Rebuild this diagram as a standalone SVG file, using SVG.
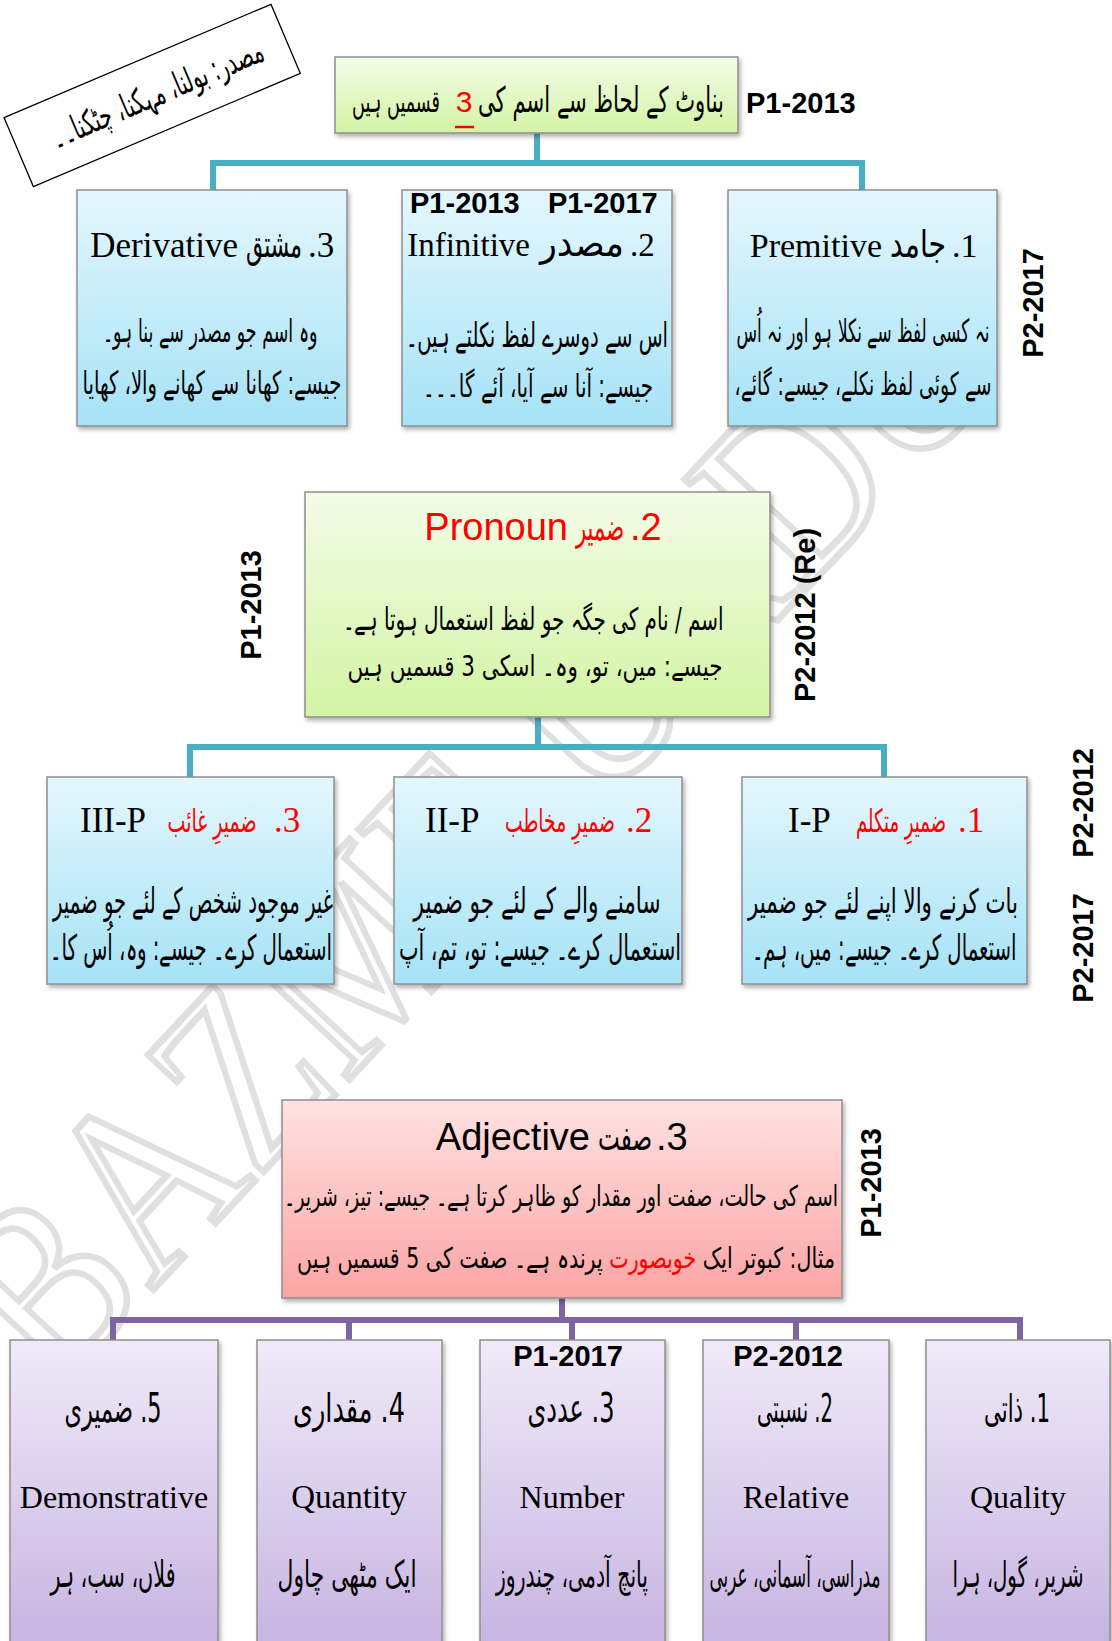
<svg xmlns="http://www.w3.org/2000/svg" width="1112" height="1641" viewBox="0 0 1112 1641">
<defs>
<linearGradient id="gGreen" x1="0" y1="0" x2="0" y2="1"><stop offset="0" stop-color="#F3FCE8"/><stop offset="1" stop-color="#D3F4A4"/></linearGradient>
<linearGradient id="gBlue" x1="0" y1="0" x2="0" y2="1"><stop offset="0" stop-color="#E4F7FD"/><stop offset="1" stop-color="#A6E2F6"/></linearGradient>
<linearGradient id="gPink" x1="0" y1="0" x2="0" y2="1"><stop offset="0" stop-color="#FFE2E2"/><stop offset="1" stop-color="#FBA4A4"/></linearGradient>
<linearGradient id="gPurple" x1="0" y1="0" x2="0" y2="1"><stop offset="0" stop-color="#F0EAF8"/><stop offset="1" stop-color="#C6B3E1"/></linearGradient>
<filter id="sh" x="-5%" y="-5%" width="112%" height="115%"><feDropShadow dx="2" dy="3" stdDeviation="2" flood-color="#000" flood-opacity="0.3"/></filter>
</defs>
<style>
.box{stroke:#8E8E8E;stroke-width:1.5;filter:url(#sh)}
.ur{font-family:"DejaVu Sans",sans-serif;fill:#000;direction:rtl;text-anchor:middle}
.tm{font-family:"Liberation Serif",serif;fill:#000}
.sa{font-family:"Liberation Sans",sans-serif;fill:#000}
.pl{font-family:"Liberation Sans",sans-serif;font-weight:bold;font-size:29px;fill:#000}
.red{fill:#FF0000}
.ct{fill:none;stroke:#4BACC6;stroke-width:6}
.cp{fill:none;stroke:#8064A2;stroke-width:6}
.wm{font-family:"Liberation Serif",serif;fill:none;stroke:#E0E0E0;stroke-width:7}
</style>
<rect width="1112" height="1641" fill="#FFFFFF"/>

<text class="wm" transform="translate(55,1395) rotate(-47)" font-size="250" textLength="1400" lengthAdjust="spacingAndGlyphs">BAZME URDU</text>

<g id="connectors">
<path class="ct" d="M537,133 V163 M213,190 V163 H862 V190"/>
<path class="ct" d="M538,717 V747 M190,777 V747 H884 V777"/>
<path class="cp" d="M562,1298 V1320 M113,1340 V1320 H1020 V1340 M349,1320 V1340 M572,1320 V1340 M796,1320 V1340"/>
</g>

<g id="note" transform="translate(152,95) rotate(-23)">
<rect x="-145" y="-37" width="290" height="75" fill="#FFFFFF" stroke="#000" stroke-width="1.3"/>
<text class="ur" transform="translate(5,12) scale(1,1.7)" font-size="20" textLength="228" lengthAdjust="spacingAndGlyphs">مصدر: بولنا، مہکنا، چٹکنا۔۔</text>
</g>

<g id="title">
<rect class="box" x="335" y="57" width="403" height="76" fill="url(#gGreen)"/>
<text class="ur" transform="translate(601,112) scale(1,1.6)" font-size="22" textLength="246" lengthAdjust="spacingAndGlyphs">بناوٹ کے لحاظ سے اسم کی</text>
<text class="sa red" x="464" y="112" font-size="30" text-anchor="middle">3</text>
<line x1="455" y1="127" x2="474" y2="127" stroke="#FF0000" stroke-width="2.5"/>
<text class="ur" transform="translate(396,112) scale(1,1.8)" font-size="17" textLength="88" lengthAdjust="spacingAndGlyphs">قسمیں ہیں</text>
<text class="pl" x="746" y="113">P1-2013</text>
</g>

<g id="derivative">
<rect class="box" x="77" y="190" width="270" height="236" fill="url(#gBlue)"/>
<text class="tm" x="238" y="257" font-size="35" text-anchor="end">Derivative</text>
<text class="ur" transform="translate(274,257) scale(1,1.5)" font-size="25" textLength="56" lengthAdjust="spacingAndGlyphs">مشتق</text>
<text class="tm" x="308" y="257" font-size="35">.3</text>
<text class="ur" transform="translate(210,342) scale(1,1.6)" font-size="20" textLength="215" lengthAdjust="spacingAndGlyphs">وہ اسم جو مصدر سے بنا ہو۔</text>
<text class="ur" transform="translate(212,394) scale(1,1.6)" font-size="20" textLength="259" lengthAdjust="spacingAndGlyphs">جیسے: کھانا سے کھانے والا، کھایا</text>
</g>

<g id="infinitive">
<rect class="box" x="402" y="190" width="270" height="236" fill="url(#gBlue)"/>
<text class="pl" x="410" y="213">P1-2013</text>
<text class="pl" x="548" y="213">P1-2017</text>
<text class="tm" x="530" y="256" font-size="33" text-anchor="end">Infinitive</text>
<text class="ur" transform="translate(582,256) scale(1,1.5)" font-size="25" textLength="84" lengthAdjust="spacingAndGlyphs">مصدر</text>
<text class="tm" x="630" y="256" font-size="33">.2</text>
<text class="ur" transform="translate(537,347) scale(1,1.6)" font-size="21" textLength="262" lengthAdjust="spacingAndGlyphs">اس سے دوسرے لفظ نکلتے ہیں۔</text>
<text class="ur" transform="translate(538,397) scale(1,1.6)" font-size="20" textLength="230" lengthAdjust="spacingAndGlyphs">جیسے: آنا سے آیا، آئے گا۔۔۔</text>
</g>

<g id="primitive">
<rect class="box" x="728" y="190" width="269" height="236" fill="url(#gBlue)"/>
<text class="tm" x="882" y="257" font-size="34" text-anchor="end">Premitive</text>
<text class="ur" transform="translate(918,257) scale(1,1.5)" font-size="25" textLength="56" lengthAdjust="spacingAndGlyphs">جامد</text>
<text class="tm" x="952" y="257" font-size="34">.1</text>
<text class="ur" transform="translate(863,342) scale(1,1.6)" font-size="20" textLength="253" lengthAdjust="spacingAndGlyphs">نہ کسی لفظ سے نکلا ہو اور نہ اُس</text>
<text class="ur" transform="translate(863,395) scale(1,1.6)" font-size="20" textLength="257" lengthAdjust="spacingAndGlyphs">سے کوئی لفظ نکلے، جیسے: گائے،</text>
</g>

<text class="pl" transform="translate(1043,303) rotate(-90)" text-anchor="middle">P2-2017</text>

<g id="pronoun">
<rect class="box" x="305" y="492" width="465" height="225" fill="url(#gGreen)"/>
<text class="sa red" x="568" y="540" font-size="38" text-anchor="end">Pronoun</text>
<text class="ur red" transform="translate(600,540) scale(1,1.5)" font-size="25" textLength="48" lengthAdjust="spacingAndGlyphs">ضمیر</text>
<text class="sa red" x="630" y="540" font-size="38">.2</text>
<text class="ur" transform="translate(533,630) scale(1,1.35)" font-size="23" textLength="381" lengthAdjust="spacingAndGlyphs">اسم / نام کی جگہ جو لفظ استعمال ہوتا ہے۔</text>
<text class="ur" transform="translate(535,676) scale(1,1.3)" font-size="22" textLength="375" lengthAdjust="spacingAndGlyphs">جیسے: میں، تو، وہ۔ اسکی 3 قسمیں ہیں</text>
</g>
<text class="pl" transform="translate(261,605) rotate(-90)" text-anchor="middle">P1-2013</text>
<text class="pl" transform="translate(815,615) rotate(-90)" text-anchor="middle">P2-2012 (Re)</text>

<g id="third-person">
<rect class="box" x="47" y="777" width="287" height="207" fill="url(#gBlue)"/>
<text class="tm" x="80" y="832" font-size="35">III-P</text>
<text class="ur red" transform="translate(212,832) scale(1,1.6)" font-size="20" textLength="89" lengthAdjust="spacingAndGlyphs">ضمیرِ غائب</text>
<text class="tm red" x="274" y="832" font-size="35">.3</text>
<text class="ur" transform="translate(193,913) scale(1,1.6)" font-size="22" textLength="280" lengthAdjust="spacingAndGlyphs">غیر موجود شخص کے لئے جو ضمیر</text>
<text class="ur" transform="translate(191,960) scale(1,1.6)" font-size="22" textLength="282" lengthAdjust="spacingAndGlyphs">استعمال کرے۔ جیسے: وہ، اُس کا۔</text>
</g>

<g id="second-person">
<rect class="box" x="394" y="777" width="288" height="207" fill="url(#gBlue)"/>
<text class="tm" x="425" y="832" font-size="35">II-P</text>
<text class="ur red" transform="translate(560,832) scale(1,1.6)" font-size="20" textLength="110" lengthAdjust="spacingAndGlyphs">ضمیرِ مخاطب</text>
<text class="tm red" x="626" y="832" font-size="35">.2</text>
<text class="ur" transform="translate(537,913) scale(1,1.6)" font-size="22" textLength="247" lengthAdjust="spacingAndGlyphs">سامنے والے کے لئے جو ضمیر</text>
<text class="ur" transform="translate(540,960) scale(1,1.6)" font-size="22" textLength="282" lengthAdjust="spacingAndGlyphs">استعمال کرے۔ جیسے: تو، تم، آپ</text>
</g>

<g id="first-person">
<rect class="box" x="742" y="777" width="285" height="207" fill="url(#gBlue)"/>
<text class="tm" x="788" y="832" font-size="35">I-P</text>
<text class="ur red" transform="translate(901,832) scale(1,1.6)" font-size="20" textLength="90" lengthAdjust="spacingAndGlyphs">ضمیرِ متکلم</text>
<text class="tm red" x="958" y="832" font-size="35">.1</text>
<text class="ur" transform="translate(883,913) scale(1,1.6)" font-size="21" textLength="270" lengthAdjust="spacingAndGlyphs">بات کرنے والا اپنے لئے جو ضمیر</text>
<text class="ur" transform="translate(884,960) scale(1,1.6)" font-size="22" textLength="265" lengthAdjust="spacingAndGlyphs">استعمال کرے۔ جیسے: میں، ہم۔</text>
</g>
<text class="pl" transform="translate(1093,803) rotate(-90)" text-anchor="middle">P2-2012</text>
<text class="pl" transform="translate(1093,948) rotate(-90)" text-anchor="middle">P2-2017</text>

<g id="adjective">
<rect class="box" x="282" y="1100" width="560" height="198" fill="url(#gPink)"/>
<text class="sa" x="590" y="1150" font-size="38" text-anchor="end">Adjective</text>
<text class="ur" transform="translate(625,1150) scale(1,1.5)" font-size="25" textLength="54" lengthAdjust="spacingAndGlyphs">صفت</text>
<text class="sa" x="656" y="1150" font-size="38">.3</text>
<text class="ur" transform="translate(561,1206) scale(1,1.3)" font-size="22" textLength="554" lengthAdjust="spacingAndGlyphs">اسم کی حالت، صفت اور مقدار کو ظاہر کرتا ہے۔ جیسے: تیز، شریر۔</text>
<text class="ur" transform="translate(566,1268) scale(1,1.3)" font-size="22" textLength="538" lengthAdjust="spacingAndGlyphs">مثال: کبوتر ایک <tspan class="red">خوبصورت</tspan> پرندہ ہے۔ صفت کی 5 قسمیں ہیں</text>
</g>
<text class="pl" transform="translate(881,1183) rotate(-90)" text-anchor="middle">P1-2013</text>

<g id="demonstrative">
<rect class="box" x="10" y="1340" width="208" height="310" fill="url(#gPurple)"/>
<text class="ur" transform="translate(113,1422) scale(1,1.6)" font-size="25" textLength="97" lengthAdjust="spacingAndGlyphs">5. ضمیری</text>
<text class="tm" x="114" y="1508" font-size="32" text-anchor="middle">Demonstrative</text>
<text class="ur" transform="translate(113,1587) scale(1,1.6)" font-size="23" textLength="125" lengthAdjust="spacingAndGlyphs">فلاں، سب، ہر</text>
</g>
<g id="quantity">
<rect class="box" x="257" y="1340" width="185" height="310" fill="url(#gPurple)"/>
<text class="ur" transform="translate(349,1422) scale(1,1.6)" font-size="25" textLength="112" lengthAdjust="spacingAndGlyphs">4. مقداری</text>
<text class="tm" x="349" y="1508" font-size="33" text-anchor="middle">Quantity</text>
<text class="ur" transform="translate(347,1587) scale(1,1.6)" font-size="23" textLength="139" lengthAdjust="spacingAndGlyphs">ایک مٹھی چاول</text>
</g>
<g id="number">
<rect class="box" x="480" y="1340" width="185" height="310" fill="url(#gPurple)"/>
<text class="pl" x="568" y="1366" text-anchor="middle" font-size="27">P1-2017</text>
<text class="ur" transform="translate(571,1422) scale(1,1.6)" font-size="25" textLength="87" lengthAdjust="spacingAndGlyphs">3. عددی</text>
<text class="tm" x="572" y="1508" font-size="32" text-anchor="middle">Number</text>
<text class="ur" transform="translate(572,1587) scale(1,1.6)" font-size="22" textLength="152" lengthAdjust="spacingAndGlyphs">پانچ آدمی، چندروز</text>
</g>
<g id="relative">
<rect class="box" x="703" y="1340" width="186" height="310" fill="url(#gPurple)"/>
<text class="pl" x="788" y="1366" text-anchor="middle" font-size="27">P2-2012</text>
<text class="ur" transform="translate(795,1422) scale(1,1.6)" font-size="24" textLength="76" lengthAdjust="spacingAndGlyphs">2. نسبتی</text>
<text class="tm" x="796" y="1508" font-size="32" text-anchor="middle">Relative</text>
<text class="ur" transform="translate(795,1587) scale(1,1.6)" font-size="22" textLength="171" lengthAdjust="spacingAndGlyphs">مدراسی، آسمانی، عربی</text>
</g>
<g id="quality">
<rect class="box" x="926" y="1340" width="184" height="310" fill="url(#gPurple)"/>
<text class="ur" transform="translate(1017,1422) scale(1,1.6)" font-size="24" textLength="66" lengthAdjust="spacingAndGlyphs">1. ذاتی</text>
<text class="tm" x="1018" y="1508" font-size="32" text-anchor="middle">Quality</text>
<text class="ur" transform="translate(1018,1587) scale(1,1.6)" font-size="22" textLength="131" lengthAdjust="spacingAndGlyphs">شریر، گول، ہرا</text>
</g>
</svg>
